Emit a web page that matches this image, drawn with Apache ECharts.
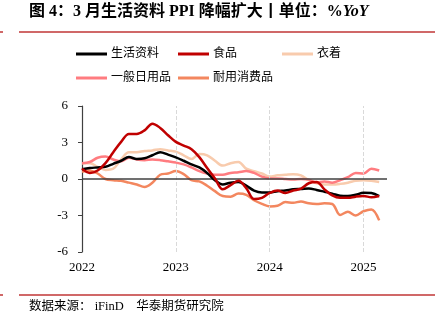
<!DOCTYPE html>
<html><head><meta charset="utf-8">
<script src="https://cdn.jsdelivr.net/npm/echarts@6/dist/echarts.min.js"></script>
<style>html,body{margin:0;padding:0;background:#fff}#c{width:435px;height:323px}</style>
</head><body><div id="c"></div>
<script>
var months = [];
for (var y = 2022; y <= 2025; y++) { for (var m = 1; m <= 12; m++) { if (y === 2025 && m > 3) break; months.push(y + '-' + (m < 10 ? '0' + m : m)); } }
var yearTicks = ['2022', '2023', '2024', '2025'];
var seriesNames = ['生活资料', '食品', '衣着', '一般日用品', '耐用消费品'];
var living = [0.8,0.9,0.95,1.0,1.25,1.5,1.8,1.65,1.7,1.95,2.2,2.0,1.78,1.5,1.2,0.95,0.5,-0.1,-0.45,-0.3,-0.25,-0.55,-0.95,-1.1,-1.1,-1.0,-0.95,-0.85,-0.82,-0.78,-0.9,-1.05,-1.2,-1.38,-1.4,-1.3,-1.12,-1.15,-1.4];
var food = [0.85,0.5,0.7,1.3,2.2,3.05,3.7,3.7,4.0,4.55,4.2,3.6,3.05,2.75,2.45,1.8,0.9,0.05,-0.85,-0.5,-0.15,-0.75,-1.65,-1.55,-1.15,-0.95,-1.15,-0.95,-0.8,-0.35,-0.25,-0.85,-1.35,-1.55,-1.55,-1.45,-1.4,-1.5,-1.4];
var clothing = [1.3,1.3,1.0,0.75,0.85,1.6,2.2,2.2,2.3,2.35,2.45,2.35,2.25,1.95,1.65,2.05,1.95,1.5,1.1,1.3,1.4,0.85,0.65,0.45,0.2,0.3,0.35,0.4,0.3,-0.1,-0.35,-0.45,-0.45,-0.4,-0.3,-0.15,-0.1,-0.15,-0.25];
var daily = [1.3,1.4,1.75,1.85,1.6,1.45,1.75,1.6,1.55,1.6,1.55,1.45,1.35,1.2,0.95,0.65,0.45,0.35,0.35,0.5,0.55,0.65,0.5,0.2,0.05,0.05,0.0,-0.05,0.0,-0.05,-0.3,-0.2,-0.3,-0.1,0.15,0.5,0.45,0.85,0.7];
var durable = [0.6,0.7,0.45,0.0,-0.1,-0.15,-0.3,-0.45,-0.65,-0.3,0.35,0.45,0.65,0.4,-0.1,-0.2,-0.55,-1.0,-1.4,-1.45,-1.2,-1.3,-1.75,-2.05,-2.25,-2.2,-1.9,-1.95,-1.85,-2.0,-2.05,-2.0,-2.05,-2.95,-2.7,-3.0,-2.65,-2.5,-3.4];
var yTicks = [-6, -3, 0, 3, 6];
var colors = ['#000000', '#C00000', '#F8CBAD', '#FF7C80', '#F3875F'];
var values = [living, food, clothing, daily, durable];

var serif = '"Liberation Serif", "Times New Roman", "Noto Sans CJK SC", serif';
var cjk = '"Liberation Serif", "Noto Sans CJK SC", sans-serif';

var legendPos = [[76, 48], [178, 48], [282, 48], [76, 72], [178, 72]];
var legends = seriesNames.map(function (n, k) {
  return {
    data: [n], left: legendPos[k][0], top: legendPos[k][1], padding: 0,
    icon: 'rect', itemWidth: 31, itemHeight: 3, itemGap: 4,
    textStyle: { fontSize: 12, color: '#000', fontFamily: cjk, padding: [0, 0, 0, -1] }
  };
});

var series = seriesNames.map(function (n, k) {
  return {
    name: n, type: 'line', smooth: 0.35, symbol: 'none',
    data: months.map(function (mm, i) { return [i, values[k][i]]; }),
    lineStyle: { color: colors[k], width: 2.5 }, itemStyle: { color: colors[k] },
    z: [5, 6, 3, 4, 2][k]
  };
});
series.push({
  type: 'line', data: [], silent: true, z: 1,
  markLine: {
    silent: true, symbol: 'none', label: { show: false },
    data: [
      { xAxis: 12, lineStyle: { color: '#D9D9D9', type: 'dashed', width: 1 } },
      { xAxis: 24, lineStyle: { color: '#D9D9D9', type: 'dashed', width: 1 } },
      { xAxis: 36, lineStyle: { color: '#D9D9D9', type: 'dashed', width: 1 } }
    ]
  }
});
series.push({
  type: 'line', data: [], silent: true, z: 7,
  markLine: {
    silent: true, symbol: 'none', label: { show: false },
    data: [{ yAxis: 0, lineStyle: { color: '#404040', type: 'solid', width: 1.5 } }]
  }
});

var chart = echarts.init(document.getElementById('c'), null, { renderer: 'canvas' });
chart.setOption({
  animation: false,
  backgroundColor: '#fff',
  title: {
    text: '{a|图 4：3 月生活资料 PPI 降幅扩大丨单位：%}{b|YoY}',
    left: 29, top: 4, padding: 0,
    textStyle: {
      rich: {
        a: { fontSize: 16, fontWeight: 'bold', color: '#000', fontFamily: cjk },
        b: { fontSize: 16, fontWeight: 'bold', fontStyle: 'italic', color: '#000', fontFamily: serif }
      }
    }
  },
  legend: legends,
  grid: { left: 82, right: 48, top: 106, bottom: 71, containLabel: false },
  xAxis: {
    type: 'value', min: 0, max: 39, interval: 12,
    axisLine: { show: false }, axisTick: { show: false }, splitLine: { show: false },
    axisLabel: {
      margin: 9, fontSize: 13, color: '#000', fontFamily: serif,
      formatter: function (v) { return v % 12 === 0 ? yearTicks[v / 12] : ''; }
    }
  },
  yAxis: {
    type: 'value', min: yTicks[0], max: yTicks[yTicks.length - 1], interval: 3,
    axisLine: { show: true, lineStyle: { color: '#404040', width: 1.2 } },
    axisTick: { show: true, inside: false, length: 4, lineStyle: { color: '#404040' } },
    splitLine: { show: false },
    axisLabel: { margin: 14, fontSize: 13, color: '#000', fontFamily: serif }
  },
  graphic: [
    { type: 'line', shape: { x1: 19, y1: 32, x2: 435, y2: 32 }, style: { stroke: '#D06868', lineWidth: 2 } },
    { type: 'line', shape: { x1: 0, y1: 32, x2: 3, y2: 32 }, style: { stroke: '#D06868', lineWidth: 2 } },
    { type: 'line', shape: { x1: 19, y1: 295, x2: 435, y2: 295 }, style: { stroke: '#D06868', lineWidth: 2 } },
    { type: 'line', shape: { x1: 0, y1: 295, x2: 3, y2: 295 }, style: { stroke: '#D06868', lineWidth: 2 } },
    { type: 'text', left: 29, top: 300, style: { text: '数据来源： iFinD    华泰期货研究院', font: '12.5px ' + cjk, fill: '#000' } }
  ],
  series: series
});
</script></body></html>
